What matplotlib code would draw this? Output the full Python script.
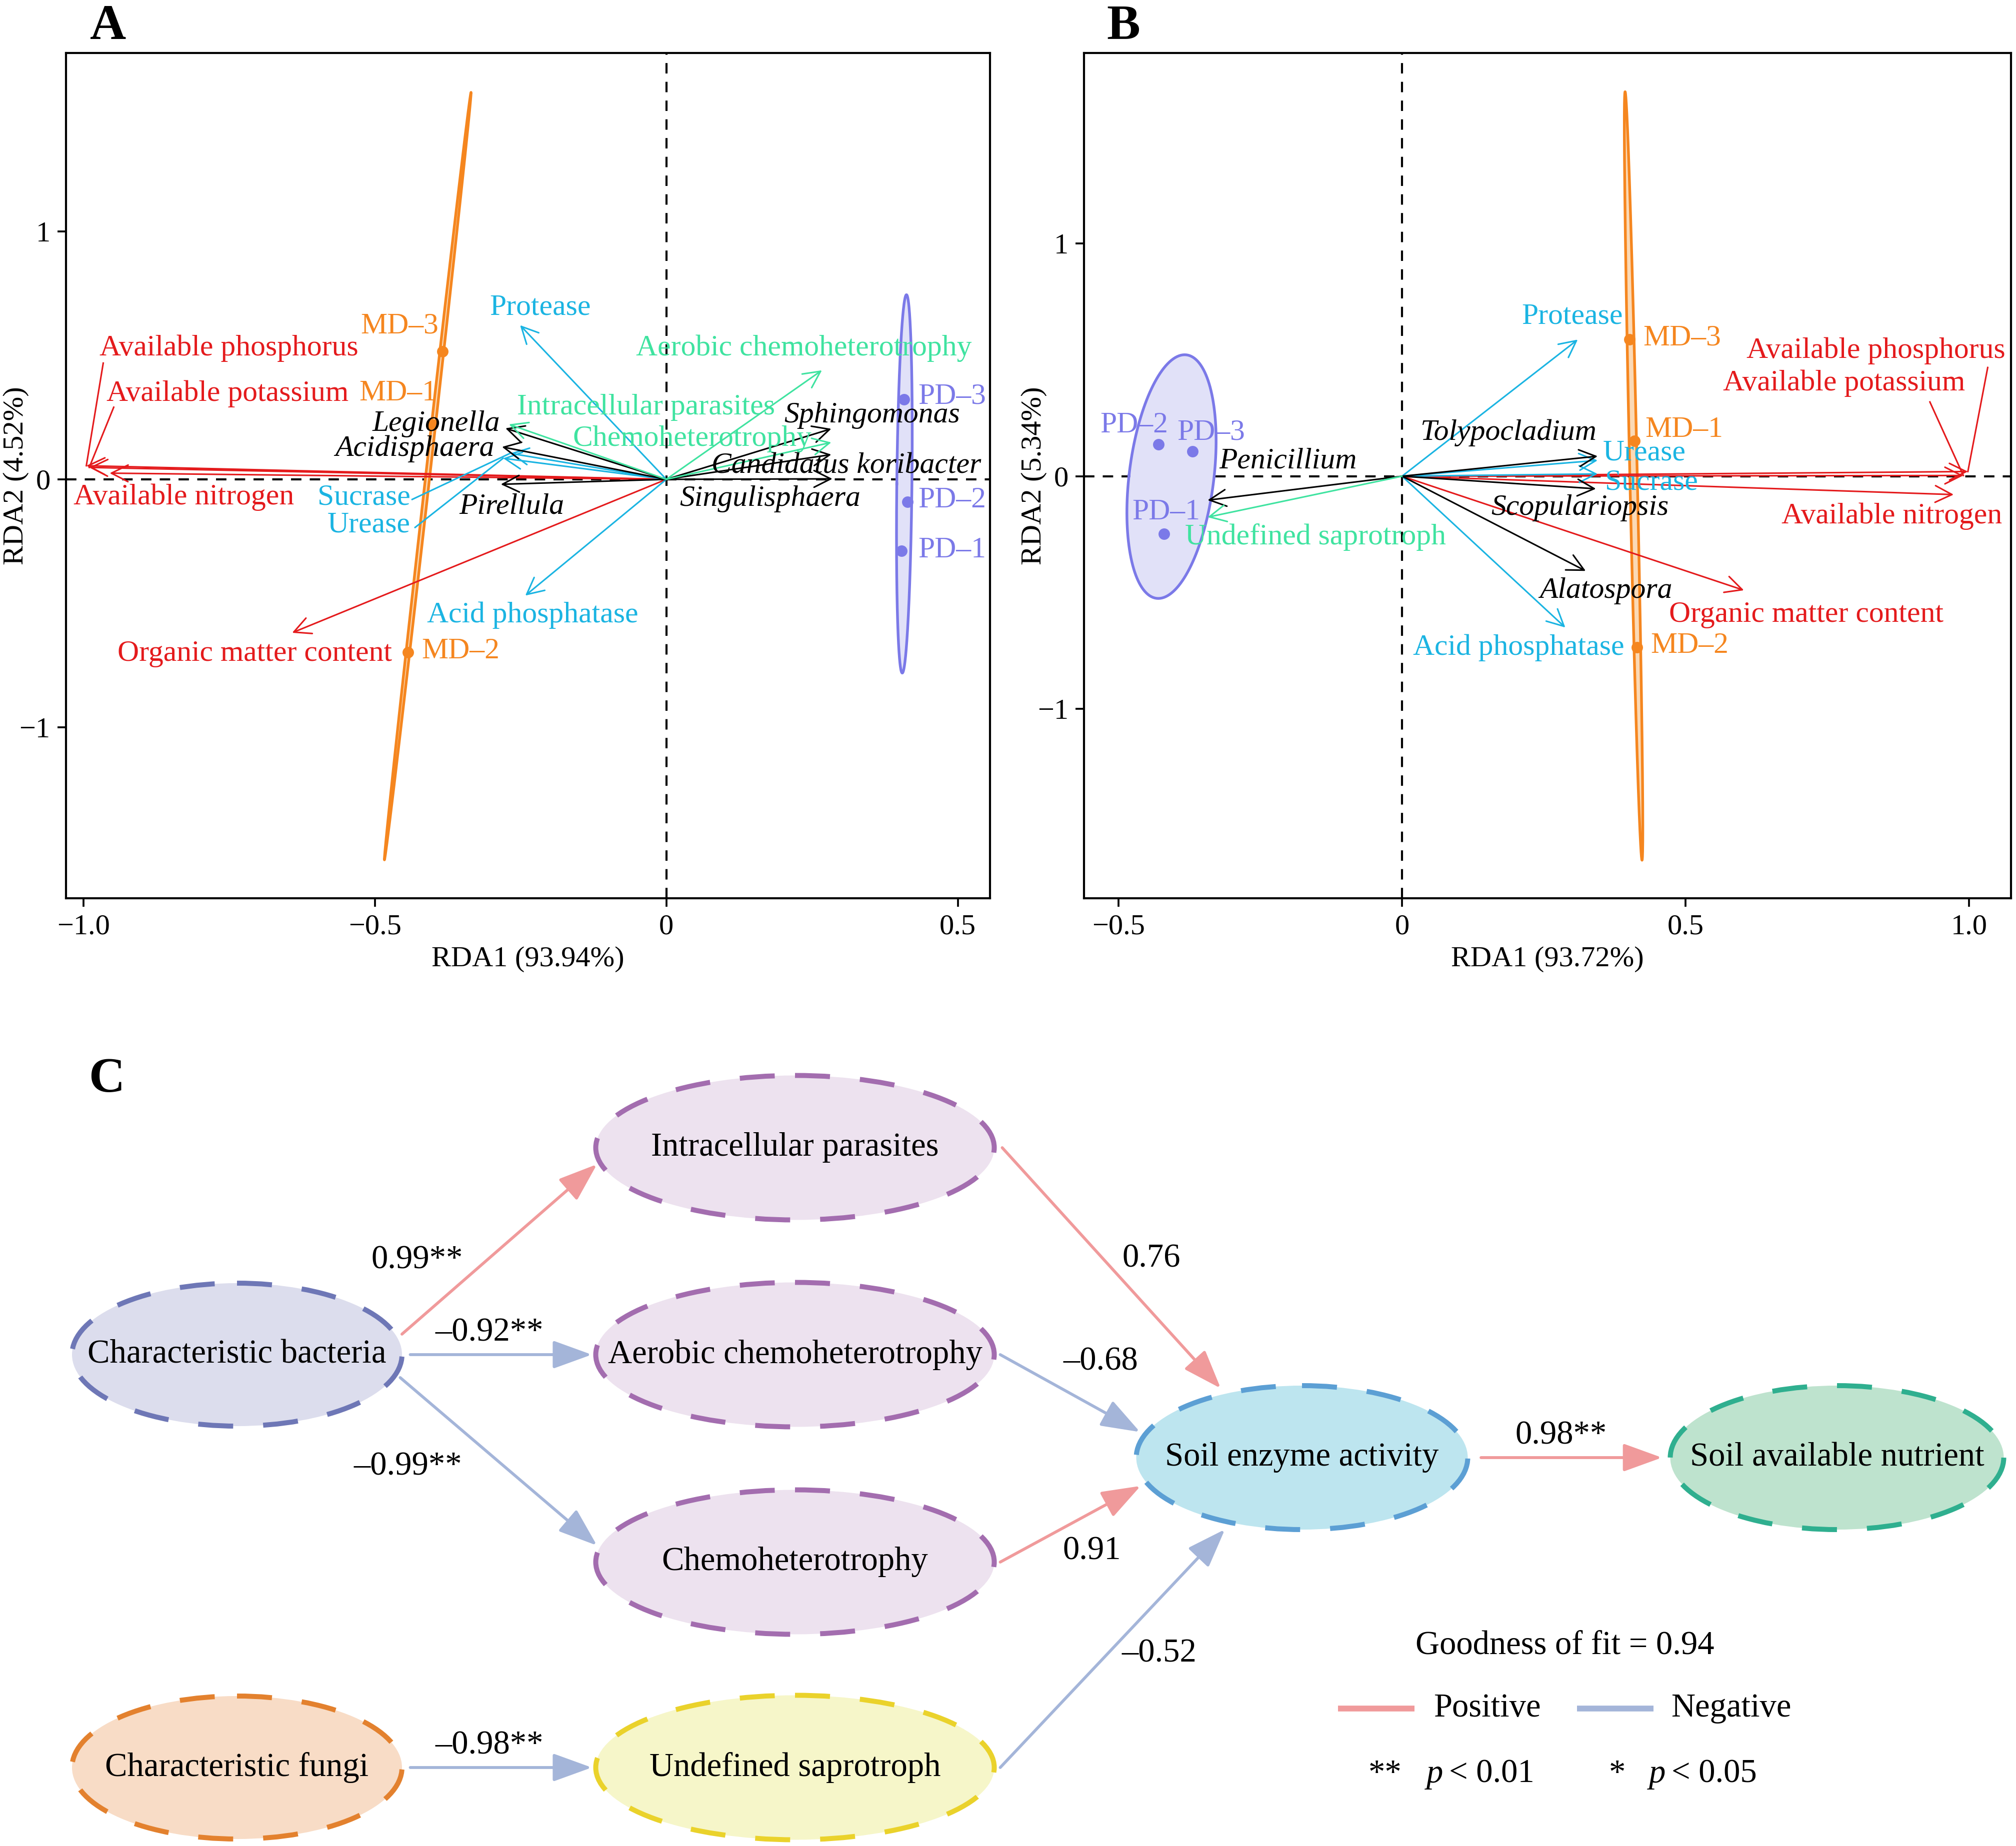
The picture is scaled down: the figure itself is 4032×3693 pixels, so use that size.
import numpy as np
import matplotlib
matplotlib.use("Agg")
from matplotlib import pyplot as plt
import matplotlib.patches as patches

plt.rcParams['font.family'] = ['Liberation Serif', 'DejaVu Serif']

# ---------------- data: panel A (bacteria RDA) ----------------
a_env_names = ["Available phosphorus", "Available potassium", "Available nitrogen", "Organic matter content"]
a_env_x = [-0.995, -0.990, -0.955, -0.642]
a_env_y = [0.055, 0.048, 0.025, -0.619]
a_enz_names = ["Protease", "Sucrase", "Urease", "Acid phosphatase"]
a_enz_x = [-0.251, -0.268, -0.280, -0.242]
a_enz_y = [0.622, 0.105, 0.085, -0.469]
a_gen_names = ["Legionella", "Acidisphaera", "Pirellula", "Sphingomonas", "Candidatus koribacter", "Singulisphaera"]
a_gen_x = [-0.276, -0.282, -0.284, 0.283, 0.283, 0.285]
a_gen_y = [0.206, 0.131, -0.020, 0.204, 0.100, 0.002]
a_fun_names = ["Intracellular parasites", "Aerobic chemoheterotrophy", "Chemoheterotrophy"]
a_fun_x = [-0.270, 0.267, 0.283]
a_fun_y = [0.222, 0.440, 0.149]
md_names = ["MD\u20131", "MD\u20132", "MD\u20133"]
pd_names = ["PD\u20131", "PD\u20132", "PD\u20133"]
a_md_x = [-0.401, -0.443, -0.384]
a_md_y = [0.220, -0.697, 0.516]
a_pd_x = [0.403, 0.414, 0.408]
a_pd_y = [-0.288, -0.090, 0.323]

# ---------------- data: panel B (fungi RDA) ----------------
b_env_names = ["Available phosphorus", "Available potassium", "Available nitrogen", "Organic matter content"]
b_env_x = [0.998, 0.990, 0.973, 0.603]
b_env_y = [0.020, 0.003, -0.079, -0.490]
b_enz_names = ["Protease", "Urease", "Sucrase", "Acid phosphatase"]
b_enz_x = [0.310, 0.345, 0.345, 0.288]
b_enz_y = [0.587, 0.068, 0.010, -0.650]
b_gen_names = ["Tolypocladium", "Penicillium", "Scopulariopsis", "Alatospora"]
b_gen_x = [0.345, -0.343, 0.342, 0.324]
b_gen_y = [0.086, -0.103, -0.054, -0.407]
b_fun_names = ["Undefined saprotroph"]
b_fun_x = [-0.343]
b_fun_y = [-0.176]
b_md_x = [0.410, 0.414, 0.401]
b_md_y = [0.152, -0.736, 0.587]
b_pd_x = [-0.420, -0.430, -0.370]
b_pd_y = [-0.248, 0.136, 0.107]

# ---------------- data: panel C (path model) ----------------
nodes = ["Characteristic bacteria", "Intracellular parasites", "Aerobic chemoheterotrophy",
         "Chemoheterotrophy", "Characteristic fungi", "Undefined saprotroph",
         "Soil enzyme activity", "Soil available nutrient"]
edge_from = [0, 0, 0, 4, 1, 2, 3, 5, 6]
edge_to = [1, 2, 3, 5, 6, 6, 6, 6, 7]
edge_coef = [0.99, -0.92, -0.99, -0.98, 0.76, -0.68, 0.91, -0.52, 0.98]
edge_sig = ["**", "**", "**", "**", "", "", "", "", "**"]
goodness_of_fit = 0.94

# ---------------- styles / layout ----------------
RED = "#E41A1C"
CYAN = "#1AB4E2"
GREEN = "#3FE3A0"
ORANGE = "#F5861F"
BLUE = "#7B79E8"
POS = "#F09A9B"
NEG = "#A4B5D9"
FS = 14.3

a_label_pos = {
    "Available phosphorus": (-0.75, 0.529), "Available potassium": (-0.753, 0.346),
    "Available nitrogen": (-0.828, -0.073), "Organic matter content": (-0.706, -0.704),
    "Protease": (-0.216, 0.692), "Sucrase": (-0.519, -0.073), "Urease": (-0.51, -0.185),
    "Acid phosphatase": (-0.229, -0.549), "Legionella": (-0.395, 0.223),
    "Acidisphaera": (-0.432, 0.123), "Pirellula": (-0.265, -0.11),
    "Sphingomonas": (0.353, 0.258), "Candidatus koribacter": (0.309, 0.053),
    "Singulisphaera": (0.178, -0.078), "Intracellular parasites": (-0.035, 0.29),
    "Aerobic chemoheterotrophy": (0.236, 0.529), "Chemoheterotrophy": (0.044, 0.163),
}
a_leaders = {  # label side start of repel segments
    "Available phosphorus": ((-0.966, 0.469), RED), "Available potassium": ((-0.948, 0.291), RED),
    "Sucrase": ((-0.436, -0.081), CYAN), "Urease": ((-0.431, -0.194), CYAN),
}
a_md_lab = [(-0.46, 0.346, 'center'), (-0.353, -0.694, 'center'), (-0.458, 0.617, 'center')]
a_pd_lab = [(0.432, -0.286, 'left'), (0.432, -0.085, 'left'), (0.432, 0.333, 'left')]

b_label_pos = {
    "Available phosphorus": (0.836, 0.539), "Available potassium": (0.780, 0.40),
    "Available nitrogen": (0.864, -0.173), "Organic matter content": (0.713, -0.595),
    "Protease": (0.300, 0.685), "Urease": (0.427, 0.099), "Sucrase": (0.44, -0.027),
    "Acid phosphatase": (0.206, -0.736), "Tolypocladium": (0.187, 0.187),
    "Penicillium": (-0.2016, 0.064), "Scopulariopsis": (0.314, -0.136),
    "Alatospora": (0.360, -0.493), "Undefined saprotroph": (-0.153, -0.261),
}
b_leaders = {
    "Available phosphorus": ((1.033, 0.467), RED), "Available potassium": ((0.931, 0.319), RED),
}
b_md_lab = [(0.429, 0.20, 'left'), (0.438, -0.728, 'left'), (0.425, 0.592, 'left')]
b_pd_lab = [(-0.416, -0.155, 'center'), (-0.473, 0.219, 'center'), (-0.337, 0.187, 'center')]


def conf_ellipse(x, y, r=np.sqrt(5.991), n=300):
    pts = np.column_stack([x, y])
    c = pts.mean(axis=0)
    vals, vecs = np.linalg.eigh(np.cov(pts, rowvar=False))
    vals = np.clip(vals, 2e-7, None)
    t = np.linspace(0, 2 * np.pi, n)
    circ = np.column_stack([np.cos(t), np.sin(t)])
    return (circ * np.sqrt(vals) * r) @ vecs.T + c


def rda_panel(ax, groups, md, pd, label_pos, leaders, md_lab, pd_lab):
    ax.axhline(0, color='k', lw=1.0, ls=(0, (5, 4)), zorder=1)
    ax.axvline(0, color='k', lw=1.0, ls=(0, (5, 4)), zorder=1)
    for (gx, gy), col, fill in [(md, ORANGE, "#FBD9B5"), (pd, BLUE, "#E1E1F8")]:
        e = conf_ellipse(gx, gy)
        ax.fill(e[:, 0], e[:, 1], facecolor=fill, edgecolor='none', zorder=2)
        ax.plot(e[:, 0], e[:, 1], color=col, lw=1.3, zorder=2)
    for names, xs, ys, col, style in groups:
        for nm, x, y in zip(names, xs, ys):
            ax.annotate("", xy=(x, y), xytext=(0, 0),
                        arrowprops=dict(arrowstyle="->,head_length=0.5,head_width=0.25",
                                        color=col, lw=0.75, shrinkA=0, shrinkB=0,
                                        mutation_scale=16), zorder=3)
            if nm in leaders:
                (lx, ly), lc = leaders[nm]
                ax.plot([lx, x], [ly, y], color=lc, lw=0.75, zorder=3)
            tx, ty = label_pos[nm]
            ax.text(tx, ty, nm, color=col, fontsize=FS, style=style,
                    ha='center', va='center', zorder=5)
    for (gx, gy), names, labs, col in [(md, md_names, md_lab, ORANGE), (pd, pd_names, pd_lab, BLUE)]:
        ax.plot(gx, gy, 'o', color=col, ms=5.5, mec='none', zorder=4)
        for nm, (tx, ty, ha) in zip(names, labs):
            ax.text(tx, ty, nm, color=col, fontsize=FS, ha=ha, va='center', zorder=5)
    ax.tick_params(direction='out', length=4, width=0.9, labelsize=14, colors='k')
    for s in ax.spines.values():
        s.set_linewidth(1.0)


fig = plt.figure(figsize=(13.44, 12.31), dpi=300)

axA = fig.add_axes([0.0327, 0.5134, 0.4583, 0.4579])
rda_panel(axA,
          [(a_env_names, a_env_x, a_env_y, RED, 'normal'),
           (a_enz_names, a_enz_x, a_enz_y, CYAN, 'normal'),
           (a_gen_names, a_gen_x, a_gen_y, 'k', 'italic'),
           (a_fun_names, a_fun_x, a_fun_y, GREEN, 'normal')],
          (a_md_x, a_md_y), (a_pd_x, a_pd_y), a_label_pos, a_leaders, a_md_lab, a_pd_lab)
axA.set_xlim(-1.030, 0.555)
axA.set_ylim(-1.69, 1.72)
axA.set_xticks([-1.0, -0.5, 0, 0.5], ["\u22121.0", "\u22120.5", "0", "0.5"])
axA.set_yticks([-1, 0, 1], ["\u22121", "0", "1"])
axA.set_xlabel("RDA1 (93.94%)", fontsize=14, labelpad=3)
axA.set_ylabel("RDA2 (4.52%)", fontsize=14)
axA.yaxis.set_label_coords(-0.040, 0.5)

axB = fig.add_axes([0.5377, 0.5134, 0.4598, 0.4579])
rda_panel(axB,
          [(b_env_names, b_env_x, b_env_y, RED, 'normal'),
           (b_enz_names, b_enz_x, b_enz_y, CYAN, 'normal'),
           (b_gen_names, b_gen_x, b_gen_y, 'k', 'italic'),
           (b_fun_names, b_fun_x, b_fun_y, GREEN, 'normal')],
          (b_md_x, b_md_y), (b_pd_x, b_pd_y), b_label_pos, b_leaders, b_md_lab, b_pd_lab)
axB.set_xlim(-0.561, 1.074)
axB.set_ylim(-1.813, 1.818)
axB.set_xticks([-0.5, 0, 0.5, 1.0], ["\u22120.5", "0", "0.5", "1.0"])
axB.set_yticks([-1, 0, 1], ["\u22121", "0", "1"])
axB.set_xlabel("RDA1 (93.72%)", fontsize=14, labelpad=3)
axB.set_ylabel("RDA2 (5.34%)", fontsize=14)
axB.yaxis.set_label_coords(-0.040, 0.5)

fig.text(0.0446, 0.979, "A", fontsize=24, fontweight='bold', va='baseline')
fig.text(0.549, 0.979, "B", fontsize=24, fontweight='bold', va='baseline')

# ---------------- panel C: path diagram in pixel layout ----------------
axC = fig.add_axes([0, 0, 1, 1693 / 3693])
axC.set_xlim(0, 4032)
axC.set_ylim(3693, 2000)
axC.axis('off')

node_xy = [(474, 2710), (1590, 2296), (1590, 2710), (1590, 3125), (474, 3536), (1590, 3536), (2604, 2916), (3674, 2916)]
node_w = [660, 797, 797, 797, 660, 797, 663, 667]
node_h = [286, 289, 289, 289, 286, 289, 288, 288]
node_face = ["#DCDDED", "#EDE2EF", "#EDE2EF", "#EDE2EF", "#F8DCC6", "#F6F6C9", "#BDE5EF", "#BEE3CE"]
node_edge = ["#6E77B6", "#A36DAF", "#A36DAF", "#A36DAF", "#E3812E", "#EAD22B", "#5C9FD4", "#2FAF8F"]
edge_ang = [(-16, 167), (0, 180), (18, 193), (0, 180), (0, -117), (0, -160), (0, 158), (0, 115), (0, 180)]
edge_fac = [(1.04, 1.02), (1.05, 1.02), (1.04, 1.02), (1.05, 1.02), (1.04, 1.08), (1.03, 1.04),
            (1.03, 1.05), (1.03, 1.1), (1.08, 1.05)]
edge_lab_xy = [(834, 2521), (979, 2666), (816, 2934), (979, 3492), (2303, 2518), (2201, 2724),
               (2184, 3103), (2318, 3308), (3122, 2872)]


def anchor(i, ang, f):
    cx, cy = node_xy[i]
    t = np.deg2rad(ang)
    return (cx + f * node_w[i] / 2 * np.cos(t), cy + f * node_h[i] / 2 * np.sin(t))


for i, nm in enumerate(nodes):
    el = patches.Ellipse(node_xy[i], node_w[i], node_h[i], facecolor=node_face[i],
                         edgecolor=node_edge[i], lw=2.4, ls=(0, (7, 6)), zorder=2)
    axC.add_patch(el)
    axC.text(node_xy[i][0], node_xy[i][1], nm, fontsize=16, ha='center', va='center', zorder=4)

for k in range(len(edge_from)):
    col = POS if edge_coef[k] > 0 else NEG
    p0 = anchor(edge_from[k], edge_ang[k][0], edge_fac[k][0])
    p1 = anchor(edge_to[k], edge_ang[k][1], edge_fac[k][1])
    arr = patches.FancyArrowPatch(p0, p1, arrowstyle="-|>,head_length=1.6,head_width=0.58",
                                  mutation_scale=10, color=col, lw=1.4, shrinkA=0, shrinkB=0, zorder=3)
    axC.add_patch(arr)
    v = edge_coef[k]
    lab = ("\u2013" if v < 0 else "") + f"{abs(v):.2f}" + edge_sig[k]
    axC.text(edge_lab_xy[k][0], edge_lab_xy[k][1], lab, fontsize=16, ha='center', va='center')

axC.text(3130, 3309, f"Goodness of fit = {goodness_of_fit:.2f}", fontsize=16, ha='center', va='baseline')
axC.plot([2676, 2829], [3418, 3418], color=POS, lw=2.8, solid_capstyle='butt')
axC.text(2867, 3434, "Positive", fontsize=16, ha='left', va='baseline')
axC.plot([3154, 3307], [3418, 3418], color=NEG, lw=2.8, solid_capstyle='butt')
axC.text(3342, 3434, "Negative", fontsize=16, ha='left', va='baseline')
axC.text(2737, 3566, "**", fontsize=16, ha='left', va='baseline')
axC.text(2853, 3566, "p", fontsize=16, style='italic', ha='left', va='baseline')
axC.text(2898, 3566, "< 0.01", fontsize=16, ha='left', va='baseline')
axC.text(3218, 3566, "*", fontsize=16, ha='left', va='baseline')
axC.text(3298, 3566, "p", fontsize=16, style='italic', ha='left', va='baseline')
axC.text(3343, 3566, "< 0.05", fontsize=16, ha='left', va='baseline')
axC.text(177, 2184, "C", fontsize=24, fontweight='bold', va='baseline')

fig.savefig("out.png", dpi=300)
